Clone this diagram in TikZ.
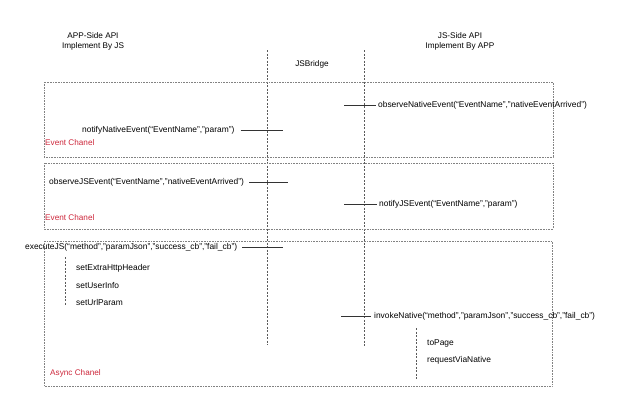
\documentclass[tikz,border=0pt]{standalone}
\usepackage{fontspec}
\setmainfont{Liberation Sans}
\definecolor{chanred}{RGB}{205,40,60}
\definecolor{boxgray}{RGB}{130,130,130}
\definecolor{lanegray}{RGB}{90,90,90}
\begin{document}
\begin{tikzpicture}[x=1pt,y=-1pt,
  lbl/.style={font=\fontsize{8.4}{9}\selectfont, inner sep=0pt, anchor=west},
  hdr/.style={font=\fontsize{8.2}{10}\selectfont, align=center, inner sep=0pt},
  chan/.style={font=\fontsize{8.2}{9}\selectfont, text=chanred, inner sep=0pt, anchor=west},
  chanbox/.style={draw=boxgray, densely dotted, line width=0.6pt},
  lane/.style={draw=lanegray, dash pattern=on 2pt off 1.5pt, line width=0.6pt},
  tick/.style={draw=black!80, line width=0.6pt}]
\useasboundingbox (0,0) rectangle (640,416);
% headers
\node[hdr] (apphdr) at (93,41) {APP-Side API\\Implement By JS};
\node[hdr] (jshdr) at (460,41) {JS-Side API\\Implement By APP};
\node[hdr] (bridge) at (312,64) {JSBridge};
% lanes
\coordinate (l1t) at (267,50); \coordinate (l1b) at (267,345);
\coordinate (l2t) at (364,50); \coordinate (l2b) at (364,347);
\draw[lane] (l1t) -- (l1b);
\draw[lane] (l2t) -- (l2b);
% boxes
\draw[chanbox] (44,82) rectangle (553,157);
\draw[chanbox] (44,163) rectangle (553,229);
\draw[chanbox] (44,241) rectangle (552,386);
% box 1
\node[lbl] (obsN) at (378,105) {observeNativeEvent(“EventName”,”nativeEventArrived”)};
\coordinate (obsNt) at (344,105);
\draw[tick] (obsNt) -- ([xshift=-2pt]obsN.west);
\node[lbl] (notN) at (82,130) {notifyNativeEvent(“EventName”,”param”)};
\coordinate (notNt) at (283,130);
\draw[tick] ([xshift=6pt]notN.east) -- (notNt);
\node[chan] (ch1) at (45,143) {Event Chanel};
% box 2
\node[lbl] (obsJ) at (49,182) {observeJSEvent(“EventName”,”nativeEventArrived”)};
\coordinate (obsJt) at (288,182);
\draw[tick] ([xshift=5pt]obsJ.east) -- (obsJt);
\node[lbl] (notJ) at (379,204) {notifyJSEvent(“EventName”,”param”)};
\coordinate (notJt) at (344,204);
\draw[tick] (notJt) -- ([xshift=-2pt]notJ.west);
\node[chan] (ch2) at (45,218) {Event Chanel};
% box 3
\node[lbl] (exe) at (25,247) {executeJS(“method”,”paramJson”,”success\_cb”,”fail\_cb”)};
\coordinate (exet) at (283,247);
\draw[tick] ([xshift=5pt]exe.east) -- (exet);
\coordinate (e1) at (65,257); \coordinate (e2) at (65,305);
\draw[lane] (e1) -- (e2);
\node[lbl] (s1) at (76,268) {setExtraHttpHeader};
\node[lbl] (s2) at (76,285) {setUserInfo};
\node[lbl] (s3) at (76,302) {setUrlParam};
\node[lbl] (inv) at (374,316) {invokeNative(“method”,”paramJson”,”success\_cb”,”fail\_cb”)};
\coordinate (invt) at (341,316);
\draw[tick] (invt) -- ([xshift=-3pt]inv.west);
\coordinate (i1) at (416,328); \coordinate (i2) at (416,380);
\draw[lane] (i1) -- (i2);
\node[lbl] (t1) at (427,343) {toPage};
\node[lbl] (t2) at (427,360) {requestViaNative};
\node[chan] (ch3) at (50,373) {Async Chanel};
\end{tikzpicture}
\end{document}
